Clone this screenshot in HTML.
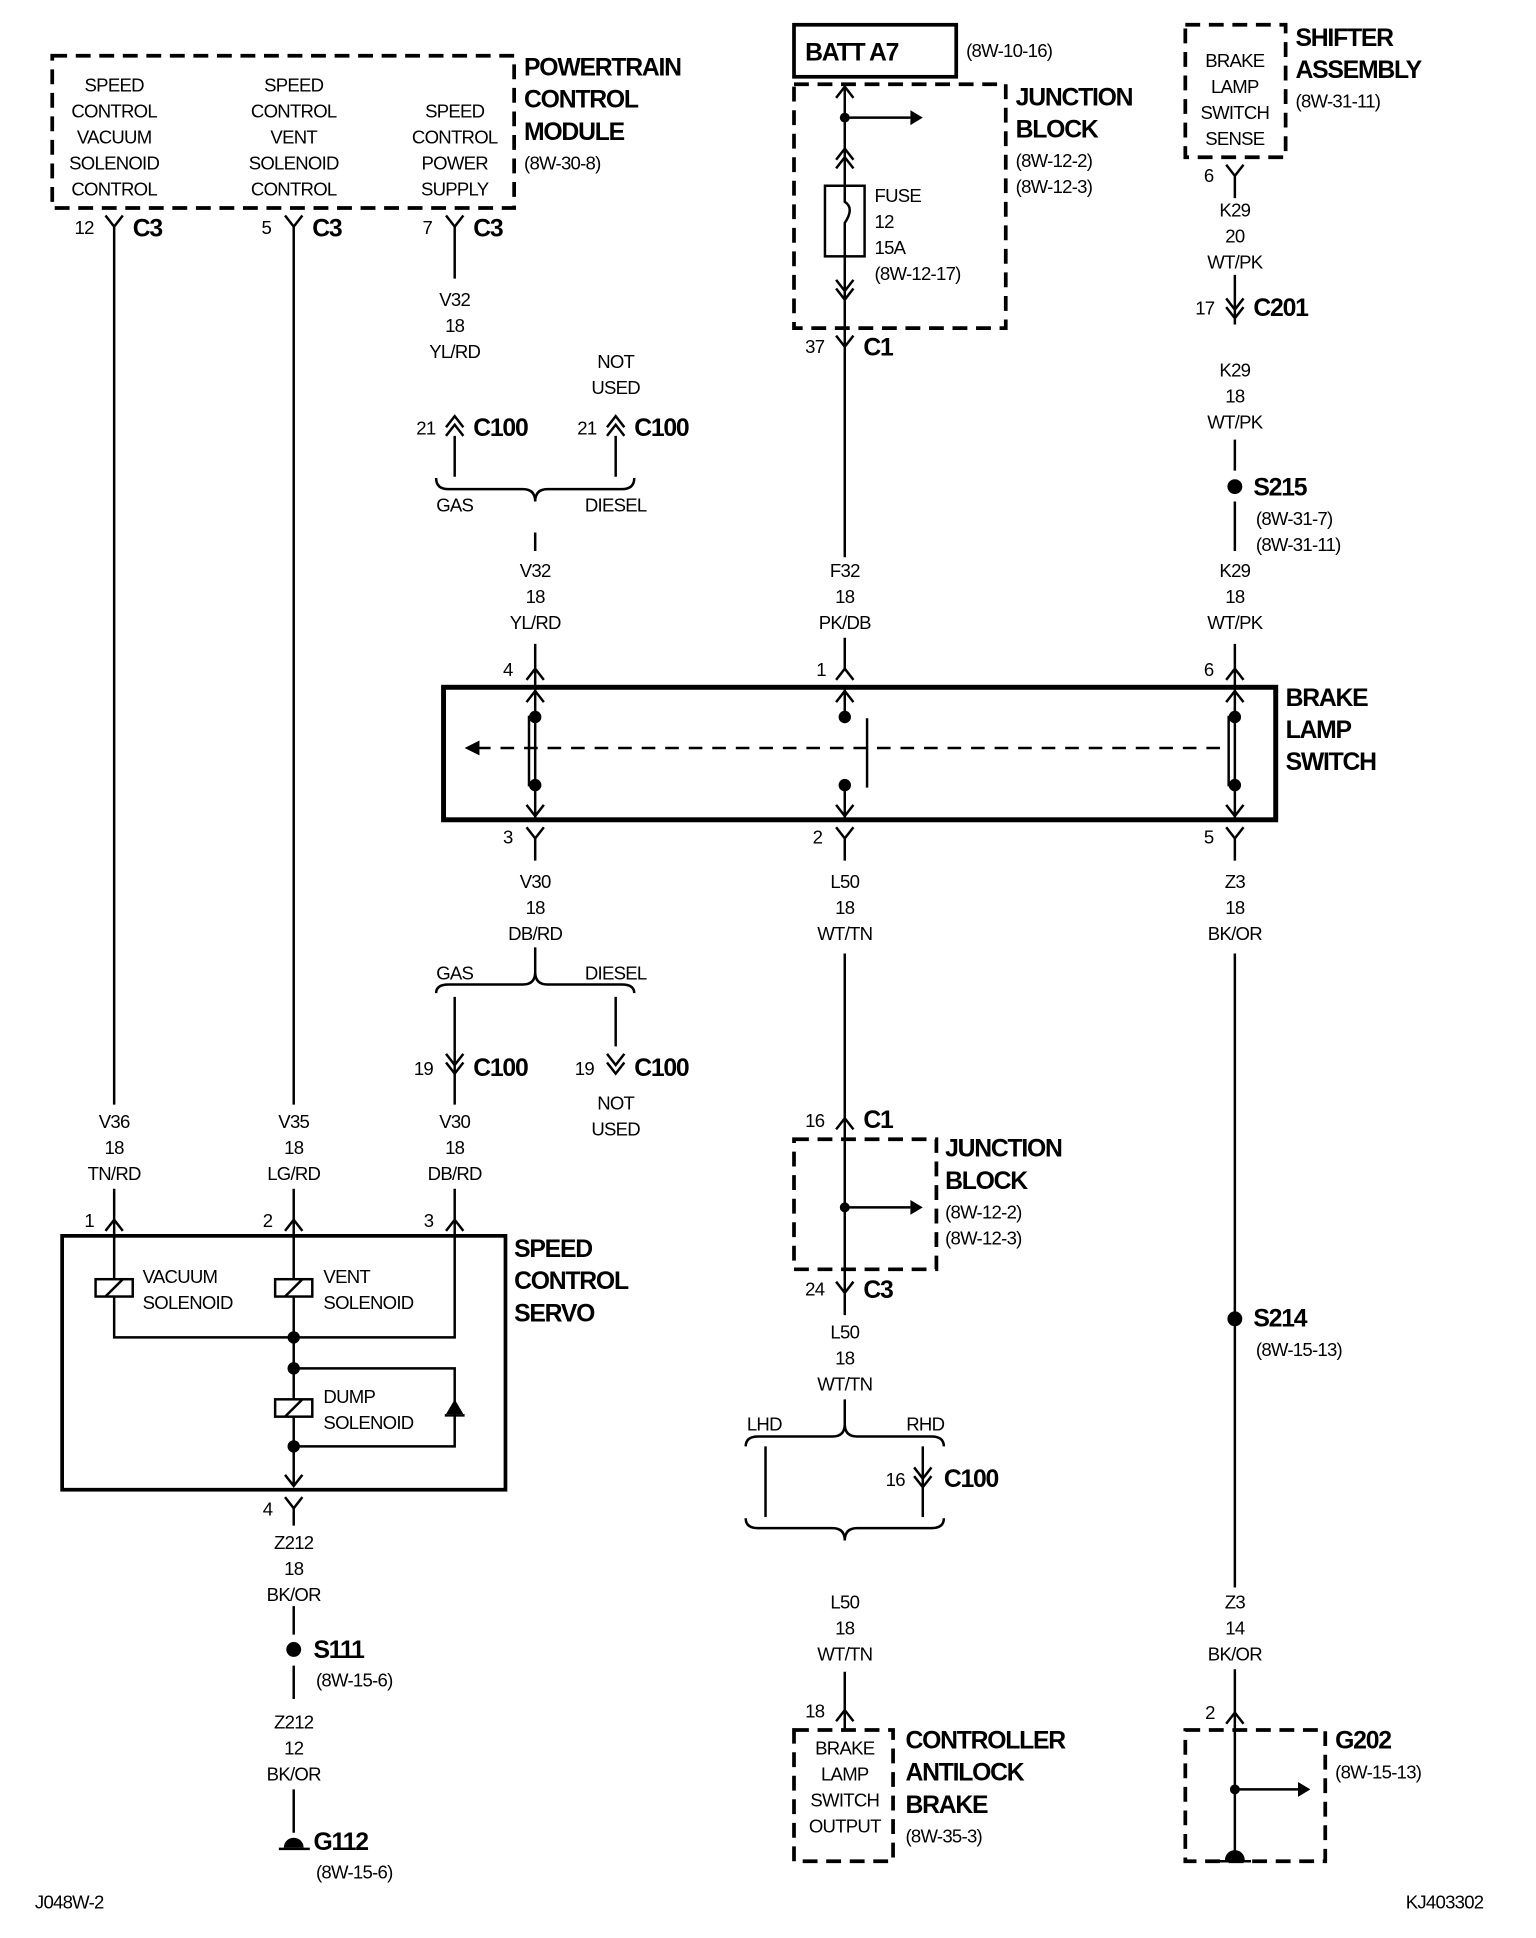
<!DOCTYPE html>
<html><head><style>
html,body{margin:0;padding:0;background:#fff}
svg{display:block}
text{font-family:"Liberation Sans",sans-serif;font-size:15px;fill:#000;letter-spacing:-0.6px}
.t{font-weight:bold;font-size:20px;letter-spacing:-1px}
</style></head><body>
<svg width="1536" height="1938" viewBox="0 0 1240 1565" xmlns="http://www.w3.org/2000/svg">
<g fill="none" stroke="#000" stroke-width="2">
<rect x="42" y="45" width="373" height="123" stroke-width="3" stroke-dasharray="12,7"/>
<path d="M85 174 L92 183 L99 174 M92 183 V892 M92 960 V985 M230 174 L237 183 L244 174 M237 183 V892 M237 960 V985 M360 174 L367 183 L374 174 M367 183 V225"/>
<path d="M360 345 L367 336 L374 345 M360 352 L367 343 L374 352 M367 352 V385 M490 345 L497 336 L504 345 M490 352 L497 343 L504 352 M497 352 V385"/>
<path d="M352 386 Q352 395 362 395 L422 395 Q432 395 432 405 Q432 395 442 395 L502 395 Q512 395 512 386"/>
<path d="M432 430 V445 M425 549 L432 540 L439 549 M432 520 V555"/>
<rect x="641" y="20" width="131" height="42" stroke-width="3"/>
<rect x="641" y="68" width="171" height="197" stroke-width="3" stroke-dasharray="12,7"/>
<path d="M682 70 V450 M682 515 V540 M675 79 L682 70 L689 79 M682 95 H735"/>
<path d="M675 129 L682 120 L689 129 M675 136 L682 127 L689 136 M675 226 L682 235 L689 226 M675 233 L682 242 L689 233 M675 271 L682 280 L689 271 M675 549 L682 540 L689 549"/>
<rect x="666" y="150" width="32" height="57" fill="#fff"/>
<path d="M682 150 V163 Q690 168 682 180 V207"/>
<rect x="957" y="20" width="81" height="107" stroke-width="3" stroke-dasharray="12,7"/>
<path d="M990 133 L997 142 L1004 133 M997 142 V160 M997 222 V262 M990 241 L997 250 L1004 241 M990 248 L997 257 L1004 248 M997 355 V380 M997 405 V445 M990 549 L997 540 L1004 549 M997 520 V555"/>
<rect x="358" y="555" width="672" height="107" stroke-width="4"/>
<path d="M432 555 V662 M427 578 V635 M682 555 V578 M682 633 V662 M700 580 V636 M997 555 V662 M992 578 V635 M425 567 L432 558 L439 567 M425 650 L432 659 L439 650 M675 567 L682 558 L689 567 M675 650 L682 659 L689 650 M990 567 L997 558 L1004 567 M990 650 L997 659 L1004 650"/>
<path d="M385 604 H990" stroke-dasharray="11,8"/>
<path d="M425 668 L432 677 L439 668 M432 677 V695 M675 668 L682 677 L689 668 M682 677 V695 M990 668 L997 677 L1004 668 M997 677 V695"/>
<path d="M432 765 V785 M352 802 Q352 795 362 795 L422 795 Q432 795 432 785 Q432 795 442 795 L502 795 Q512 795 512 802 M367 805 V892 M367 960 V985 M497 805 V845 M360 851 L367 860 L374 851 M360 858 L367 867 L374 858 M490 851 L497 860 L504 851 M490 858 L497 867 L504 858"/>
<path d="M682 770 V1062 M675 912 L682 903 L689 912 M675 1035 L682 1044 L689 1035 M682 975 H735"/>
<rect x="641" y="920" width="115" height="105" stroke-width="3" stroke-dasharray="12,7"/>
<path d="M682 1130 V1150 M602 1168 Q602 1160 612 1160 L672 1160 Q682 1160 682 1150 Q682 1160 692 1160 L752 1160 Q762 1160 762 1168 M618 1168 V1225 M745 1168 V1225 M738 1185 L745 1194 L752 1185 M738 1192 L745 1201 L752 1192 M602 1226 Q602 1234 612 1234 L672 1234 Q682 1234 682 1244 Q682 1234 692 1234 L752 1234 Q762 1234 762 1226 M682 1350 V1397 M675 1390 L682 1381 L689 1390"/>
<rect x="641" y="1397" width="80" height="106" stroke-width="3" stroke-dasharray="12,7"/>
<path d="M997 770 V1282 M997 1348 V1383 M990 1392 L997 1383 L1004 1392 M997 1383 V1497 M997 1445 H1050"/>
<rect x="957" y="1397" width="113" height="106" stroke-width="3" stroke-dasharray="12,7"/>
<path d="M985 1503 H1010"/>
<rect x="50" y="998" width="358" height="205" stroke-width="3"/>
<path d="M85 994 L92 985 L99 994 M230 994 L237 985 L244 994 M360 994 L367 985 L374 994 M92 985 V1080 H367 V985 M237 985 V1200 M237 1105 H367 V1168 H237 M230 1191 L237 1200 L244 1191 M230 1209 L237 1218 L244 1209 M237 1218 V1232"/>
<rect x="77" y="1033" width="30" height="14" fill="#fff"/><path d="M85 1047 L99 1033"/>
<rect x="222" y="1033" width="30" height="14" fill="#fff"/><path d="M230 1047 L244 1033"/>
<rect x="222" y="1130" width="30" height="14" fill="#fff"/><path d="M230 1144 L244 1130"/>
<path d="M359 1143 H375"/>
<path d="M237 1297 V1320 M237 1345 V1372 M237 1445 V1480 M225 1493 H250"/>
</g>
<g fill="#000">
<path d="M735 89 L745 95 L735 101Z M735 969 L745 975 L735 981Z M1048 1439 L1058 1445 L1048 1451Z M375 604 L387 598 L387 610Z M360 1142 L367 1130 L374 1142Z" />
<circle cx="682" cy="95" r="4"/><circle cx="682" cy="975" r="4"/><circle cx="997" cy="1445" r="4"/>
<circle cx="432" cy="579" r="5"/><circle cx="432" cy="634" r="5"/><circle cx="682" cy="579" r="5"/><circle cx="682" cy="634" r="5"/><circle cx="997" cy="579" r="5"/><circle cx="997" cy="634" r="5"/>
<circle cx="237" cy="1080" r="5"/><circle cx="237" cy="1105" r="5"/><circle cx="237" cy="1168" r="5"/>
<circle cx="997" cy="393" r="6"/><circle cx="997" cy="1065" r="6"/><circle cx="237" cy="1332" r="6"/>
<path d="M229 1492 A8 8 0 0 1 245 1492Z"/><path d="M989 1502 A8 8 0 0 1 1005 1502Z"/>
</g>
<g text-anchor="middle">
<text x="92" y="74">SPEED</text><text x="92" y="95">CONTROL</text><text x="92" y="116">VACUUM</text><text x="92" y="137">SOLENOID</text><text x="92" y="158">CONTROL</text>
<text x="237" y="74">SPEED</text><text x="237" y="95">CONTROL</text><text x="237" y="116">VENT</text><text x="237" y="137">SOLENOID</text><text x="237" y="158">CONTROL</text>
<text x="367" y="95">SPEED</text><text x="367" y="116">CONTROL</text><text x="367" y="137">POWER</text><text x="367" y="158">SUPPLY</text>
<text x="367" y="247">V32</text><text x="367" y="268">18</text><text x="367" y="289">YL/RD</text>
<text x="497" y="297">NOT</text><text x="497" y="318">USED</text>
<text x="367" y="413">GAS</text><text x="497" y="413">DIESEL</text>
<text x="432" y="466">V32</text><text x="432" y="487">18</text><text x="432" y="508">YL/RD</text>
<text x="682" y="466">F32</text><text x="682" y="487">18</text><text x="682" y="508">PK/DB</text>
<text x="997" y="466">K29</text><text x="997" y="487">18</text><text x="997" y="508">WT/PK</text>
<text x="997" y="54">BRAKE</text><text x="997" y="75">LAMP</text><text x="997" y="96">SWITCH</text><text x="997" y="117">SENSE</text>
<text x="997" y="175">K29</text><text x="997" y="196">20</text><text x="997" y="217">WT/PK</text>
<text x="997" y="304">K29</text><text x="997" y="325">18</text><text x="997" y="346">WT/PK</text>
<text x="432" y="717">V30</text><text x="432" y="738">18</text><text x="432" y="759">DB/RD</text>
<text x="682" y="717">L50</text><text x="682" y="738">18</text><text x="682" y="759">WT/TN</text>
<text x="997" y="717">Z3</text><text x="997" y="738">18</text><text x="997" y="759">BK/OR</text>
<text x="367" y="791">GAS</text><text x="497" y="791">DIESEL</text>
<text x="497" y="896">NOT</text><text x="497" y="917">USED</text>
<text x="92" y="911">V36</text><text x="92" y="932">18</text><text x="92" y="953">TN/RD</text>
<text x="237" y="911">V35</text><text x="237" y="932">18</text><text x="237" y="953">LG/RD</text>
<text x="367" y="911">V30</text><text x="367" y="932">18</text><text x="367" y="953">DB/RD</text>
<text x="682" y="1081">L50</text><text x="682" y="1102">18</text><text x="682" y="1123">WT/TN</text>
<text x="617" y="1155">LHD</text><text x="747" y="1155">RHD</text>
<text x="682" y="1299">L50</text><text x="682" y="1320">18</text><text x="682" y="1341">WT/TN</text>
<text x="997" y="1299">Z3</text><text x="997" y="1320">14</text><text x="997" y="1341">BK/OR</text>
<text x="237" y="1251">Z212</text><text x="237" y="1272">18</text><text x="237" y="1293">BK/OR</text>
<text x="237" y="1396">Z212</text><text x="237" y="1417">12</text><text x="237" y="1438">BK/OR</text>
<text x="682" y="1417">BRAKE</text><text x="682" y="1438">LAMP</text><text x="682" y="1459">SWITCH</text><text x="682" y="1480">OUTPUT</text>
</g>
<text class="t" x="423" y="61">POWERTRAIN</text><text class="t" x="423" y="87">CONTROL</text><text class="t" x="423" y="113">MODULE</text><text x="423" y="137">(8W-30-8)</text>
<text x="60" y="189">12</text><text class="t" x="107" y="191">C3</text>
<text x="211" y="189">5</text><text class="t" x="252" y="191">C3</text>
<text x="341" y="189">7</text><text class="t" x="382" y="191">C3</text>
<text x="336" y="351">21</text><text class="t" x="382" y="352">C100</text>
<text x="466" y="351">21</text><text class="t" x="512" y="352">C100</text>
<text class="t" x="650" y="49">BATT A7</text><text x="780" y="46">(8W-10-16)</text>
<text class="t" x="820" y="85">JUNCTION</text><text class="t" x="820" y="111">BLOCK</text><text x="820" y="135">(8W-12-2)</text><text x="820" y="156">(8W-12-3)</text>
<text x="706" y="163">FUSE</text><text x="706" y="184">12</text><text x="706" y="205">15A</text><text x="706" y="226">(8W-12-17)</text>
<text x="650" y="285">37</text><text class="t" x="697" y="287">C1</text>
<text class="t" x="1046" y="37">SHIFTER</text><text class="t" x="1046" y="63">ASSEMBLY</text><text x="1046" y="87">(8W-31-11)</text>
<text x="972" y="147">6</text>
<text x="965" y="254">17</text><text class="t" x="1012" y="255">C201</text>
<text class="t" x="1012" y="400">S215</text><text x="1014" y="424">(8W-31-7)</text><text x="1014" y="445">(8W-31-11)</text>
<text x="406" y="546">4</text><text x="659" y="546">1</text><text x="972" y="546">6</text>
<text class="t" x="1038" y="570">BRAKE</text><text class="t" x="1038" y="596">LAMP</text><text class="t" x="1038" y="622">SWITCH</text>
<text x="406" y="681">3</text><text x="656" y="681">2</text><text x="972" y="681">5</text>
<text x="334" y="868">19</text><text class="t" x="382" y="869">C100</text>
<text x="464" y="868">19</text><text class="t" x="512" y="869">C100</text>
<text x="650" y="910">16</text><text class="t" x="697" y="911">C1</text>
<text class="t" x="763" y="934">JUNCTION</text><text class="t" x="763" y="960">BLOCK</text><text x="763" y="984">(8W-12-2)</text><text x="763" y="1005">(8W-12-3)</text>
<text x="650" y="1046">24</text><text class="t" x="697" y="1048">C3</text>
<text x="715" y="1200">16</text><text class="t" x="762" y="1201">C100</text>
<text x="650" y="1387">18</text>
<text class="t" x="731" y="1412">CONTROLLER</text><text class="t" x="731" y="1438">ANTILOCK</text><text class="t" x="731" y="1464">BRAKE</text><text x="731" y="1488">(8W-35-3)</text>
<text class="t" x="1012" y="1071">S214</text><text x="1014" y="1095">(8W-15-13)</text>
<text x="973" y="1388">2</text>
<text class="t" x="1078" y="1412">G202</text><text x="1078" y="1436">(8W-15-13)</text>
<text x="68" y="991">1</text><text x="212" y="991">2</text><text x="342" y="991">3</text>
<text class="t" x="415" y="1015">SPEED</text><text class="t" x="415" y="1041">CONTROL</text><text class="t" x="415" y="1067">SERVO</text>
<text x="115" y="1036">VACUUM</text><text x="115" y="1057">SOLENOID</text>
<text x="261" y="1036">VENT</text><text x="261" y="1057">SOLENOID</text>
<text x="261" y="1133">DUMP</text><text x="261" y="1154">SOLENOID</text>
<text x="212" y="1224">4</text>
<text class="t" x="253" y="1339">S111</text><text x="255" y="1362">(8W-15-6)</text>
<text class="t" x="253" y="1494">G112</text><text x="255" y="1517">(8W-15-6)</text>
<text x="28" y="1541">J048W-2</text><text x="1135" y="1541">KJ403302</text>
</svg>
</body></html>
